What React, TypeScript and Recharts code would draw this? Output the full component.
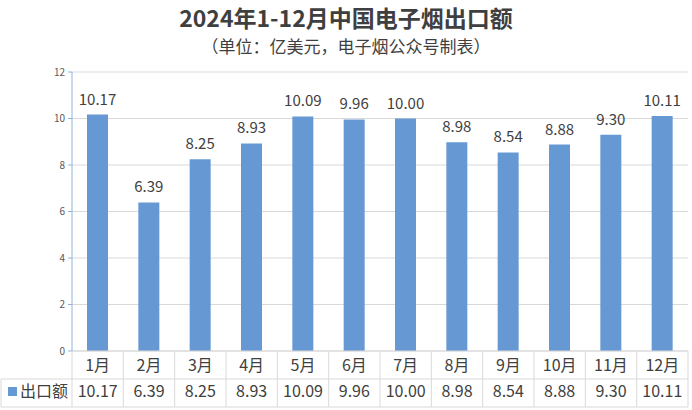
import { BarChart, Bar, XAxis, YAxis, CartesianGrid, LabelList } from "recharts";

const months = ["1月", "2月", "3月", "4月", "5月", "6月", "7月", "8月", "9月", "10月", "11月", "12月"];
const exportValues = [10.17, 6.39, 8.25, 8.93, 10.09, 9.96, 10.0, 8.98, 8.54, 8.88, 9.3, 10.11];
const yTicks = [0, 2, 4, 6, 8, 10, 12];
const seriesName = "出口额";

const W = 692;
const H = 410;
const LEFT = 72;
const RIGHT = 4;
const TABLE_H = 56;
const FONT = '"Noto Sans CJK SC", "Noto Sans", sans-serif';
const BAR_COLOR = "#6699d3";
const LINE = "#d9d9d9";
const TEXT = "#404040";

const data = months.map((m, i) => ({ month: m, value: exportValues[i] }));

// x axis drawn as the data table under the plot
function TableTick(props: any) {
    const { x, y, payload } = props;
    const i = payload?.index ?? props.index ?? 0;
    const band = (W - LEFT - RIGHT) / months.length;
    const left = x - band / 2;
    const right = x + band / 2;
    const mid = y + TABLE_H / 2;
    const bottom = y + TABLE_H;
    return (
        <g>
            <line x1={left} y1={y} x2={left} y2={bottom} stroke={LINE} />
            {i === months.length - 1 && (
                <line x1={right} y1={y} x2={right} y2={bottom} stroke={LINE} />
            )}
            <line x1={left} y1={mid} x2={right} y2={mid} stroke={LINE} />
            <line x1={left} y1={bottom} x2={right} y2={bottom} stroke={LINE} />
            <text x={x} y={y + 20} textAnchor="middle" fontSize={16} fill={TEXT} fontFamily={FONT}>
                {payload.value}
            </text>
            <text x={x} y={mid + 18} textAnchor="middle" fontSize={16} fill={TEXT} fontFamily={FONT}>
                {exportValues[i].toFixed(2)}
            </text>
            {i === 0 && (
                <g>
                    <line x1={1} y1={mid} x2={left} y2={mid} stroke={LINE} />
                    <line x1={1} y1={bottom} x2={left} y2={bottom} stroke={LINE} />
                    <line x1={1} y1={mid} x2={1} y2={bottom} stroke={LINE} />
                    <rect x={8} y={mid + 8} width={9} height={9} fill={BAR_COLOR} />
                    <text x={20} y={mid + 18} fontSize={16} fill={TEXT} fontFamily={FONT}>
                        {seriesName}
                    </text>
                </g>
            )}
        </g>
    );
}

export default function App() {
    return (
        <div
            style={{
                position: "absolute",
                left: 0,
                top: 0,
                width: W,
                height: H,
                background: "#fff",
                fontFamily: FONT,
            }}
        >
            <div
                style={{
                    position: "absolute",
                    top: 0,
                    width: W,
                    textAlign: "center",
                    fontSize: 23,
                    fontWeight: 700,
                    color: "#3f3f3f",
                    lineHeight: "34px",
                }}
            >
                2024年1-12月中国电子烟出口额
            </div>
            <div
                style={{
                    position: "absolute",
                    top: 34,
                    width: W,
                    textAlign: "center",
                    fontSize: 17,
                    color: "#3f3f3f",
                    lineHeight: "24px",
                }}
            >
                （单位：亿美元，电子烟公众号制表）
            </div>
            <BarChart
                width={W}
                height={H}
                data={data}
                margin={{ top: 72, right: RIGHT, bottom: 3, left: 0 }}
            >
                <CartesianGrid vertical={false} stroke={LINE} />
                <XAxis
                    dataKey="month"
                    height={TABLE_H}
                    tickSize={0}
                    tickMargin={0}
                    tickLine={false}
                    axisLine={{ stroke: LINE }}
                    interval={0}
                    tick={<TableTick />}
                />
                <YAxis
                    width={LEFT}
                    domain={[0, 12]}
                    ticks={yTicks}
                    interval={0}
                    tickSize={4}
                    tickMargin={3}
                    axisLine={{ stroke: "#8fb4e0" }}
                    tickLine={{ stroke: "#8fb4e0" }}
                    tick={{ fontSize: 10, fill: "#595959", fontFamily: FONT }}
                />
                <Bar dataKey="value" fill={BAR_COLOR} barSize={21} isAnimationActive={false}>
                    <LabelList
                        dataKey="value"
                        position="top"
                        offset={10}
                        formatter={(v: any) => Number(v).toFixed(2)}
                        style={{ fontSize: 15, fill: TEXT, fontFamily: FONT }}
                    />
                </Bar>
            </BarChart>
        </div>
    );
}
